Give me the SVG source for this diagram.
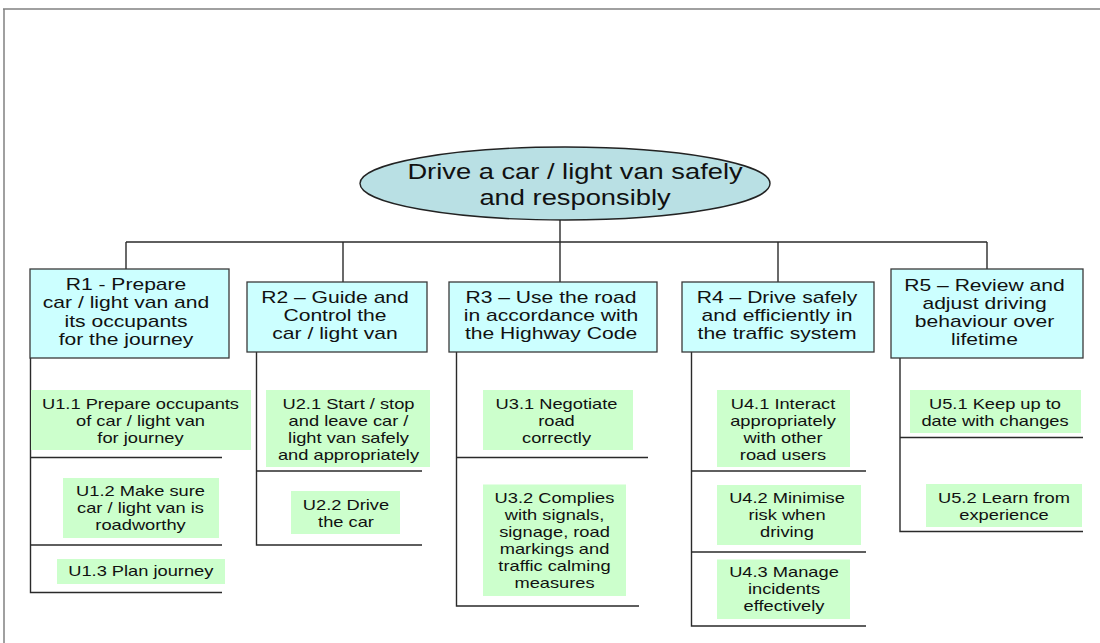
<svg xmlns="http://www.w3.org/2000/svg" width="1100" height="643" viewBox="0 0 1100 643">
  <style>
    .frame { stroke: #808080; stroke-width: 1.5; fill: none; }
    .wire { stroke: #2a2a2a; stroke-width: 1.4; fill: none; }
    .goal { fill: #b9e0e4; stroke: #222; stroke-width: 1.4; }
    .role { fill: #ccffff; stroke: #3a3a3a; stroke-width: 1.3; }
    .unit { fill: #ccffcc; stroke: none; }
    text { font-family: "Liberation Sans", Arial, sans-serif; fill: #111; text-anchor: middle; }
    .t-goal { font-size: 21.5px; }
    .t-role { font-size: 16.6px; }
    .t-unit { font-size: 14.4px; }
  </style>

  <!-- page frame -->
  <g id="frame">
    <line class="frame" x1="3" y1="9" x2="1100" y2="9"/>
    <line class="frame" x1="4" y1="9" x2="4" y2="643"/>
  </g>

  <!-- tree connectors and unit brackets -->
  <g id="connectors">
    <line class="wire" x1="560" y1="220" x2="560" y2="242"/>
    <line class="wire" x1="126" y1="242" x2="987" y2="242"/>
    <line class="wire" x1="126" y1="242" x2="126" y2="269"/>
    <line class="wire" x1="343" y1="242" x2="343" y2="282"/>
    <line class="wire" x1="560" y1="242" x2="560" y2="282"/>
    <line class="wire" x1="778" y1="242" x2="778" y2="282"/>
    <line class="wire" x1="987" y1="242" x2="987" y2="269"/>

    <!-- R1 bracket -->
    <polyline class="wire" points="30.5,358 30.5,592.5 222,592.5"/>
    <line class="wire" x1="30.5" y1="457.5" x2="222" y2="457.5"/>
    <line class="wire" x1="30.5" y1="545" x2="222" y2="545"/>
    <!-- R2 bracket -->
    <polyline class="wire" points="256.5,352 256.5,545 422,545"/>
    <line class="wire" x1="256.5" y1="471" x2="422" y2="471"/>
    <!-- R3 bracket -->
    <polyline class="wire" points="456.5,352 456.5,606 639,606"/>
    <line class="wire" x1="456.5" y1="457.5" x2="648" y2="457.5"/>
    <!-- R4 bracket -->
    <polyline class="wire" points="691.5,352 691.5,626 866,626"/>
    <line class="wire" x1="691.5" y1="471" x2="866" y2="471"/>
    <line class="wire" x1="691.5" y1="552" x2="866" y2="552"/>
    <!-- R5 bracket -->
    <polyline class="wire" points="900,358 900,531.5 1083,531.5"/>
    <line class="wire" x1="900" y1="437.5" x2="1083" y2="437.5"/>
  </g>

  <!-- goal -->
  <g id="goal">
    <ellipse class="goal" cx="565" cy="183.5" rx="205" ry="36.5"/>
    <g transform="matrix(1.27 0 0 1 575 0)">
      <text class="t-goal"><tspan x="0" y="179">Drive a car / light van safely</tspan><tspan x="0" y="205">and responsibly</tspan></text>
    </g>
  </g>

  <!-- roles -->
  <g id="R1">
    <rect class="role" x="30" y="269" width="199" height="89"/>
    <g transform="matrix(1.27 0 0 1 126 0)">
      <text class="t-role"><tspan x="0" y="290">R1 - Prepare</tspan><tspan x="0" y="308.3">car / light van and</tspan><tspan x="0" y="326.6">its occupants</tspan><tspan x="0" y="345">for the journey</tspan></text>
    </g>
  </g>
  <g id="R2">
    <rect class="role" x="247" y="282" width="180" height="70"/>
    <g transform="matrix(1.27 0 0 1 335 0)">
      <text class="t-role"><tspan x="0" y="303">R2 – Guide and</tspan><tspan x="0" y="321">Control the</tspan><tspan x="0" y="339">car / light van</tspan></text>
    </g>
  </g>
  <g id="R3">
    <rect class="role" x="449" y="282" width="208" height="70"/>
    <g transform="matrix(1.27 0 0 1 551 0)">
      <text class="t-role"><tspan x="0" y="303">R3 – Use the road</tspan><tspan x="0" y="321">in accordance with</tspan><tspan x="0" y="339">the Highway Code</tspan></text>
    </g>
  </g>
  <g id="R4">
    <rect class="role" x="682" y="282" width="192" height="70"/>
    <g transform="matrix(1.27 0 0 1 777 0)">
      <text class="t-role"><tspan x="0" y="303">R4 – Drive safely</tspan><tspan x="0" y="321">and efficiently in</tspan><tspan x="0" y="339">the traffic system</tspan></text>
    </g>
  </g>
  <g id="R5">
    <rect class="role" x="891" y="269" width="192" height="89"/>
    <g transform="matrix(1.27 0 0 1 984.5 0)">
      <text class="t-role"><tspan x="0" y="291">R5 – Review and</tspan><tspan x="0" y="309">adjust driving</tspan><tspan x="0" y="327.2">behaviour over</tspan><tspan x="0" y="345.4">lifetime</tspan></text>
    </g>
  </g>

  <!-- units -->
  <g id="U1-1">
    <rect class="unit" x="31" y="390" width="220" height="60"/>
    <g transform="matrix(1.27 0 0 1 140.5 0)">
      <text class="t-unit"><tspan x="0" y="409">U1.1 Prepare occupants</tspan><tspan x="0" y="426">of car / light van</tspan><tspan x="0" y="443">for journey</tspan></text>
    </g>
  </g>
  <g id="U1-2">
    <rect class="unit" x="63" y="478" width="156" height="60"/>
    <g transform="matrix(1.27 0 0 1 140.5 0)">
      <text class="t-unit"><tspan x="0" y="496">U1.2 Make sure</tspan><tspan x="0" y="513">car / light van is</tspan><tspan x="0" y="530">roadworthy</tspan></text>
    </g>
  </g>
  <g id="U1-3">
    <rect class="unit" x="57" y="559" width="168" height="25"/>
    <g transform="matrix(1.27 0 0 1 140.8 0)">
      <text class="t-unit"><tspan x="0" y="576.5">U1.3 Plan journey</tspan></text>
    </g>
  </g>
  <g id="U2-1">
    <rect class="unit" x="266" y="390" width="164" height="77"/>
    <g transform="matrix(1.27 0 0 1 348.5 0)">
      <text class="t-unit"><tspan x="0" y="409">U2.1 Start / stop</tspan><tspan x="0" y="426">and leave car /</tspan><tspan x="0" y="443">light van safely</tspan><tspan x="0" y="460">and appropriately</tspan></text>
    </g>
  </g>
  <g id="U2-2">
    <rect class="unit" x="291" y="491" width="109" height="43"/>
    <g transform="matrix(1.27 0 0 1 346 0)">
      <text class="t-unit"><tspan x="0" y="510">U2.2 Drive</tspan><tspan x="0" y="527">the car</tspan></text>
    </g>
  </g>
  <g id="U3-1">
    <rect class="unit" x="483" y="390" width="150" height="60"/>
    <g transform="matrix(1.27 0 0 1 556.5 0)">
      <text class="t-unit"><tspan x="0" y="409">U3.1 Negotiate</tspan><tspan x="0" y="426">road</tspan><tspan x="0" y="443">correctly</tspan></text>
    </g>
  </g>
  <g id="U3-2">
    <rect class="unit" x="483" y="484.5" width="143" height="111.5"/>
    <g transform="matrix(1.27 0 0 1 554.5 0)">
      <text class="t-unit"><tspan x="0" y="502.7">U3.2 Complies</tspan><tspan x="0" y="519.7">with signals,</tspan><tspan x="0" y="536.7">signage, road</tspan><tspan x="0" y="553.7">markings and</tspan><tspan x="0" y="570.7">traffic calming</tspan><tspan x="0" y="587.7">measures</tspan></text>
    </g>
  </g>
  <g id="U4-1">
    <rect class="unit" x="717" y="390" width="133" height="77"/>
    <g transform="matrix(1.27 0 0 1 783 0)">
      <text class="t-unit"><tspan x="0" y="409">U4.1 Interact</tspan><tspan x="0" y="426">appropriately</tspan><tspan x="0" y="443">with other</tspan><tspan x="0" y="460">road users</tspan></text>
    </g>
  </g>
  <g id="U4-2">
    <rect class="unit" x="717" y="485" width="144" height="60"/>
    <g transform="matrix(1.27 0 0 1 787 0)">
      <text class="t-unit"><tspan x="0" y="502.7">U4.2 Minimise</tspan><tspan x="0" y="519.7">risk when</tspan><tspan x="0" y="536.7">driving</tspan></text>
    </g>
  </g>
  <g id="U4-3">
    <rect class="unit" x="717" y="559.5" width="133" height="59.5"/>
    <g transform="matrix(1.27 0 0 1 784 0)">
      <text class="t-unit"><tspan x="0" y="577.3">U4.3 Manage</tspan><tspan x="0" y="594.3">incidents</tspan><tspan x="0" y="611.3">effectively</tspan></text>
    </g>
  </g>
  <g id="U5-1">
    <rect class="unit" x="910" y="390" width="171" height="43"/>
    <g transform="matrix(1.27 0 0 1 995 0)">
      <text class="t-unit"><tspan x="0" y="409">U5.1 Keep up to</tspan><tspan x="0" y="426">date with changes</tspan></text>
    </g>
  </g>
  <g id="U5-2">
    <rect class="unit" x="926" y="484" width="156" height="43"/>
    <g transform="matrix(1.27 0 0 1 1004 0)">
      <text class="t-unit"><tspan x="0" y="502.7">U5.2 Learn from</tspan><tspan x="0" y="519.7">experience</tspan></text>
    </g>
  </g>
</svg>
